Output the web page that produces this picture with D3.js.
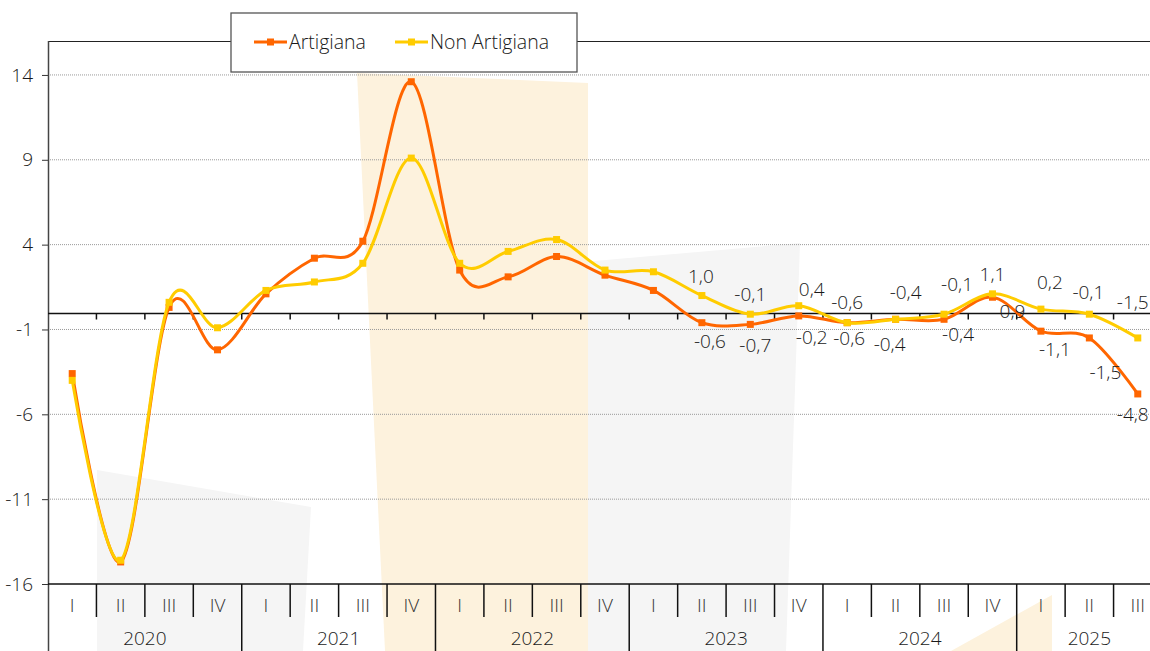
<!DOCTYPE html>
<html>
<head>
<meta charset="utf-8">
<script src="https://cdn.jsdelivr.net/npm/d3@7"></script>
<style>
  html, body { margin: 0; padding: 0; background: #fff; overflow: hidden; }
  svg { display: block; }
</style>
</head>
<body>
<div id="chart"></div>
<script>
const quarters = ["I","II","III","IV","I","II","III","IV","I","II","III","IV",
  "I","II","III","IV","I","II","III","IV","I","II","III"];
const years = ["2020","2021","2022","2023","2024","2025"];
const artigiana = [-3.6, -14.7, 0.3, -2.2, 1.1, 3.2, 4.2, 13.6, 2.5, 2.1, 3.3, 2.2,
  1.3, -0.6, -0.7, -0.2, -0.6, -0.4, -0.4, 0.9, -1.1, -1.5, -4.8];
const nonArtigiana = [-4.0, -14.6, 0.6, -0.9, 1.3, 1.8, 2.9, 9.1, 2.9, 3.6, 4.3, 2.5,
  2.4, 1.0, -0.1, 0.4, -0.6, -0.4, -0.1, 1.1, 0.2, -0.1, -1.5];
const yTicks = [-16, -11, -6, -1, 4, 9, 14];
const firstLabel = 13; // data labels from 2023 II

// label nudges [dx, dy] in px, from first labelled point on
const nudgeA = [[8,19],[5,21],[13,21],[2,16],[-6,25],[14,15],[20,14],[14,18],[16,34],[-5,20]];
const nudgeN = [[-1,-19],[0,-20],[13,-16],[0,-20],[10,-27],[13,-30],[0,-19],[9,-27],[-1,-22],[-5,-36]];

const width = 1150, height = 651;
const margin = { top: 41, left: 48, bottom: 584, right: 1162 };
const orange = "#ff6600", yellow = "#ffcc00";
const font = "'Open Sans', 'Noto Sans', sans-serif";
const textColor = "#1a1a1a";

const svg = d3.select("#chart").append("svg")
  .attr("width", width).attr("height", height)
  .style("font-family", font)
  .style("font-weight", 300);

const keys = quarters.map((q, i) => i);
const x = d3.scaleBand().domain(keys).range([margin.left, margin.right]);
const y = d3.scaleLinear().domain([-16, 16]).range([margin.bottom, margin.top]);
const cx = i => x(i) + x.bandwidth() / 2;

// decorative background shapes
const bg = svg.append("g");
bg.append("path").attr("fill", "#f5f5f5")
  .attr("d", "M97,470 L311,507 L303,651 L97,651 Z");
bg.append("path").attr("fill", "#f5f5f5")
  .attr("d", "M560,264 L800,243 L786,651 L560,651 Z");
bg.append("path").attr("fill", "#fdf2dd")
  .attr("d", "M357,73 L588,83 L588,651 L385,651 Z");
bg.append("path").attr("fill", "#fdf2dd")
  .attr("d", "M951,651 L1052,595 L1052,651 Z");

// gridlines
svg.append("g").selectAll("line")
  .data(yTicks.filter(d => d > -16))
  .join("line")
  .attr("x1", margin.left).attr("x2", width)
  .attr("y1", d => y(d)).attr("y2", d => y(d))
  .attr("stroke", "#9a9a9a").attr("stroke-width", 1)
  .attr("stroke-dasharray", "1,1");

// y axis
const yAxis = svg.append("g")
  .attr("transform", `translate(${margin.left},0)`)
  .call(d3.axisLeft(y).tickValues(yTicks).tickSize(6).tickPadding(9).tickFormat(d3.format("d")));
yAxis.select(".domain").remove();
yAxis.selectAll(".tick line").attr("stroke", "#333");
yAxis.selectAll("text").style("font-size", "19px").style("font-family", font)
  .attr("fill", textColor).text(d => String(d));

// frame: top and left
svg.append("line").attr("x1", margin.left).attr("x2", width)
  .attr("y1", margin.top + 0.5).attr("y2", margin.top + 0.5).attr("stroke", "#222");
svg.append("line").attr("x1", margin.left + 0.5).attr("x2", margin.left + 0.5)
  .attr("y1", margin.top).attr("y2", height).attr("stroke", "#444").attr("stroke-width", 1.5);

// zero line with ticks
const zeroY = Math.round(y(0)) + 0.5;
svg.append("line").attr("x1", margin.left).attr("x2", width)
  .attr("y1", zeroY).attr("y2", zeroY).attr("stroke", "#111").attr("stroke-width", 1.5);
svg.append("g").selectAll("line")
  .data(keys.slice(1))
  .join("line")
  .attr("x1", d => x(d)).attr("x2", d => x(d))
  .attr("y1", zeroY).attr("y2", zeroY + 6)
  .attr("stroke", "#111").attr("stroke-width", 1.5);

// bottom category axis
const bottomY = y(-16);
svg.append("line").attr("x1", margin.left).attr("x2", width)
  .attr("y1", bottomY).attr("y2", bottomY).attr("stroke", "#111").attr("stroke-width", 1.5);
svg.append("g").selectAll("line")
  .data(keys.slice(1).concat([keys.length]))
  .join("line")
  .attr("x1", d => d < keys.length ? x(d) : margin.right)
  .attr("x2", d => d < keys.length ? x(d) : margin.right)
  .attr("y1", bottomY)
  .attr("y2", d => d % 4 === 0 ? height : bottomY + 33)
  .attr("stroke", "#111").attr("stroke-width", 1.5);

svg.append("g").selectAll("text")
  .data(quarters)
  .join("text")
  .attr("x", (d, i) => cx(i))
  .attr("y", bottomY + 21)
  .attr("dy", "0.35em")
  .attr("text-anchor", "middle")
  .style("font-size", "19px")
  .attr("fill", "#333")
  .text(d => d);

svg.append("g").selectAll("text")
  .data(years)
  .join("text")
  .attr("x", (d, i) => {
    const a = x(i * 4);
    const last = Math.min(i * 4 + 3, keys.length - 1);
    return (a + x(last) + x.bandwidth()) / 2;
  })
  .attr("y", bottomY + 54)
  .attr("dy", "0.35em")
  .attr("text-anchor", "middle")
  .style("font-size", "19px")
  .attr("fill", textColor)
  .text(d => d);

// lines (Non Artigiana drawn on top)
const line = d3.line()
  .x((d, i) => cx(i))
  .y(d => y(d))
  .curve(d3.curveCardinal.tension(0));

const series = [
  { name: "Artigiana", values: artigiana, color: orange, nudge: nudgeA },
  { name: "Non Artigiana", values: nonArtigiana, color: yellow, nudge: nudgeN }
];

series.forEach(s => {
  svg.append("path")
    .datum(s.values)
    .attr("fill", "none")
    .attr("stroke", s.color)
    .attr("stroke-width", 3)
    .attr("d", line);
  svg.append("g").selectAll("rect")
    .data(s.values)
    .join("rect")
    .attr("x", (d, i) => cx(i) - 3.5)
    .attr("y", d => y(d) - 3.5)
    .attr("width", 7).attr("height", 7)
    .attr("fill", s.color);
});

// data labels
const fmt = v => d3.format(".1f")(v).replace(".", ",").replace("−", "-");
series.forEach(s => {
  svg.append("g").selectAll("text")
    .data(s.values.slice(firstLabel))
    .join("text")
    .attr("x", (d, i) => cx(i + firstLabel) + s.nudge[i][0])
    .attr("y", (d, i) => y(d) + s.nudge[i][1])
    .attr("dy", "0.35em")
    .attr("text-anchor", "middle")
    .style("font-size", "19px")
    .attr("fill", textColor)
    .text(d => fmt(d));
});

// legend
const lg = svg.append("g");
lg.append("rect").attr("x", 231).attr("y", 13).attr("width", 346).attr("height", 59)
  .attr("fill", "#fff").attr("stroke", "#555").attr("stroke-width", 1.3);
const legendItems = [
  { name: "Artigiana", color: orange, x0: 254 },
  { name: "Non Artigiana", color: yellow, x0: 395 }
];
legendItems.forEach(d => {
  lg.append("line").attr("x1", d.x0).attr("x2", d.x0 + 33)
    .attr("y1", 42).attr("y2", 42).attr("stroke", d.color).attr("stroke-width", 3);
  lg.append("rect").attr("x", d.x0 + 13).attr("y", 38.5).attr("width", 7).attr("height", 7)
    .attr("fill", d.color);
  lg.append("text").attr("x", d.x0 + 35).attr("y", 42).attr("dy", "0.35em")
    .style("font-size", "19.5px").attr("fill", textColor).text(d.name);
});
</script>
</body>
</html>
